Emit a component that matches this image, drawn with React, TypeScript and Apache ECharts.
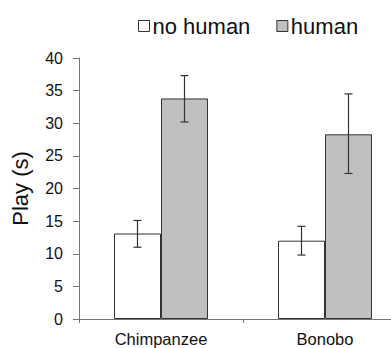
import React, { useEffect, useRef } from "react";
import * as echarts from "echarts";

const categories = ["Chimpanzee", "Bonobo"];
const noHuman = [13.1, 12.0];
const noHumanErrLow = [11.0, 9.8];
const noHumanErrHigh = [15.1, 14.2];
const human = [33.8, 28.3];
const humanErrLow = [30.2, 22.3];
const humanErrHigh = [37.3, 34.5];
const yTicks = [0, 5, 10, 15, 20, 25, 30, 35, 40];

export default function App() {
  const ref = useRef<HTMLDivElement>(null);
  useEffect(() => {
    if (!ref.current) return;
    const chart = echarts.init(ref.current, null, { renderer: "svg" });
    const font = "Liberation Sans, Arial, sans-serif";
    const errSeries = (low: number[], high: number[], offset: number) => ({
      type: "custom",
      silent: true,
      z: 10,
      data: categories.map((_, i) => [i, low[i], high[i]]),
      encode: { x: 0, y: [1, 2] },
      renderItem: (params: any, api: any) => {
        const i = api.value(0);
        const lo = api.coord([i, api.value(1)]);
        const hi = api.coord([i, api.value(2)]);
        const cw = api.size([1, 0])[0];
        const x = lo[0] + offset * cw;
        const cap = 4;
        const style = { stroke: "#333", lineWidth: 1.2 };
        return {
          type: "group",
          children: [
            { type: "line", shape: { x1: x, y1: lo[1], x2: x, y2: hi[1] }, style },
            { type: "line", shape: { x1: x - cap, y1: lo[1], x2: x + cap, y2: lo[1] }, style },
            { type: "line", shape: { x1: x - cap, y1: hi[1], x2: x + cap, y2: hi[1] }, style },
          ],
        };
      },
    });
    chart.setOption({
      animation: false,
      textStyle: { fontFamily: font },
      legend: {
        top: 10,
        left: 133,
        itemWidth: 11,
        itemHeight: 11,
        itemGap: 26,
        icon: "rect",
        textStyle: { fontSize: 22, color: "#111", fontFamily: font, padding: [0, 0, 0, -2] },
        data: [
          { name: "no human", itemStyle: { color: "#fff", borderColor: "#333", borderWidth: 1 } },
          { name: "human", itemStyle: { color: "#c0c0c0", borderColor: "#333", borderWidth: 1 } },
        ],
      },
      grid: { left: 79, top: 58, width: 328, height: 261, containLabel: false, outerBoundsMode: "none" },
      xAxis: {
        type: "category",
        data: categories,
        axisLine: { lineStyle: { color: "#777", width: 1 } },
        axisTick: { show: true, length: 4, lineStyle: { color: "#777" } },
        axisLabel: { fontSize: 16.5, color: "#111", margin: 11 },
      },
      yAxis: {
        type: "value",
        min: 0,
        max: 40,
        interval: 5,
        name: "Play (s)",
        nameLocation: "middle",
        nameGap: 48,
        nameTextStyle: { fontSize: 22, color: "#111" },
        splitLine: { show: false },
        axisLine: { show: true, lineStyle: { color: "#777", width: 1 } },
        axisTick: { show: true, length: 6, lineStyle: { color: "#777" } },
        axisLabel: {
          fontSize: 16,
          color: "#111",
          margin: 16,
          formatter: (v: number) => (yTicks.includes(v) ? String(v) : ""),
        },
      },
      series: [
        {
          name: "no human",
          type: "bar",
          data: noHuman,
          barWidth: 47,
          barGap: "0%",
          itemStyle: { color: "#fff", borderColor: "#333", borderWidth: 1 },
        },
        {
          name: "human",
          type: "bar",
          data: human,
          barWidth: 47,
          barGap: "0%",
          itemStyle: { color: "#c0c0c0", borderColor: "#333", borderWidth: 1 },
        },
        errSeries(noHumanErrLow, noHumanErrHigh, -47 / 2 / 164),
        errSeries(humanErrLow, humanErrHigh, 47 / 2 / 164),
      ],
    });
    return () => chart.dispose();
  }, []);
  return <div ref={ref} style={{ width: 391, height: 348, position: "absolute", left: 0, top: 0, background: "#fff" }} />;
}
